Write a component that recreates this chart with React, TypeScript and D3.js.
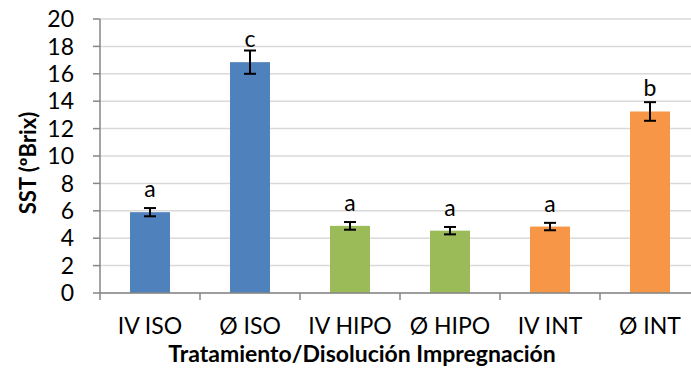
import React from "react";
import * as d3 from "d3";

const categories = ["IV ISO", "Ø ISO", "IV HIPO", "Ø HIPO", "IV INT", "Ø INT"];
const values = [5.9, 16.85, 4.9, 4.55, 4.85, 13.25];
const errors = [0.3, 0.85, 0.28, 0.27, 0.27, 0.68];
const letters = ["a", "c", "a", "a", "a", "b"];
const barColors = ["#4F81BD", "#4F81BD", "#9BBB59", "#9BBB59", "#F79646", "#F79646"];
const yTicks = [0, 2, 4, 6, 8, 10, 12, 14, 16, 18, 20];
const yTitle = "SST (ºBrix)";
const xTitle = "Tratamiento/Disolución Impregnación";

const W = 691;
const H = 380;
const plotLeft = 100;
const plotRight = 700;
const plotTop = 19;
const plotBottom = 293;
const FONT = "Lato, 'Open Sans', sans-serif";

export default function App() {
  const x = d3.scaleBand<string>().domain(categories).range([plotLeft, plotRight]).padding(0);
  const y = d3.scaleLinear().domain([0, 20]).range([plotBottom, plotTop]);
  const bw = x.bandwidth() * 0.4;
  const boundaries = categories.map((c) => x(c) as number).concat([plotRight]);

  return (
    <svg
      width={W}
      height={H}
      style={{ position: "absolute", left: 0, top: 0, background: "#fff" }}
      fontFamily={FONT}
    >
      <rect x={0} y={0} width={W} height={H} fill="#fff" />
      {yTicks.map((t) => (
        <line key={"g" + t} x1={plotLeft} x2={plotRight} y1={y(t)} y2={y(t)} stroke="#D9D9D9" strokeWidth={1.5} />
      ))}
      {values.map((v, i) => {
        const cx = (x(categories[i]) as number) + x.bandwidth() / 2;
        return (
          <rect key={"b" + i} x={cx - bw / 2} y={y(v)} width={bw} height={y(0) - y(v)} fill={barColors[i]} />
        );
      })}
      <line x1={plotLeft} x2={plotLeft} y1={plotTop} y2={plotBottom} stroke="#868686" strokeWidth={1.5} />
      <line x1={plotLeft} x2={plotRight} y1={plotBottom} y2={plotBottom} stroke="#868686" strokeWidth={1.5} />
      {yTicks.map((t) => (
        <g key={"yt" + t}>
          <line x1={plotLeft - 7} x2={plotLeft} y1={y(t)} y2={y(t)} stroke="#868686" strokeWidth={1.5} />
          <text x={74} y={y(t)} dy="0.36em" textAnchor="end" fontSize={23} fill="#000">
            {t}
          </text>
        </g>
      ))}
      {boundaries.map((b, i) => (
        <line key={"xt" + i} x1={b} x2={b} y1={plotBottom} y2={plotBottom + 7} stroke="#868686" strokeWidth={1.5} />
      ))}
      {values.map((v, i) => {
        const cx = (x(categories[i]) as number) + x.bandwidth() / 2;
        const e = errors[i];
        return (
          <g key={"e" + i} stroke="#000" strokeWidth={2}>
            <line x1={cx} x2={cx} y1={y(v + e)} y2={y(v - e)} />
            <line x1={cx - 6} x2={cx + 6} y1={y(v + e)} y2={y(v + e)} />
            <line x1={cx - 6} x2={cx + 6} y1={y(v - e)} y2={y(v - e)} />
          </g>
        );
      })}
      {letters.map((l, i) => {
        const cx = (x(categories[i]) as number) + x.bandwidth() / 2;
        return (
          <text key={"l" + i} x={cx} y={y(values[i]) - 15} textAnchor="middle" fontSize={23} fill="#000">
            {l}
          </text>
        );
      })}
      {categories.map((c) => (
        <text key={"c" + c} x={(x(c) as number) + x.bandwidth() / 2} y={334} textAnchor="middle" fontSize={23} fill="#000">
          {c}
        </text>
      ))}
      <text x={362} y={362} textAnchor="middle" fontSize={23} fontWeight="bold" fill="#000">
        {xTitle}
      </text>
      <text
        transform={`translate(36, 163) rotate(-90)`}
        textAnchor="middle"
        fontSize={22}
        fontWeight="bold"
        fill="#000"
      >
        {yTitle}
      </text>
    </svg>
  );
}
